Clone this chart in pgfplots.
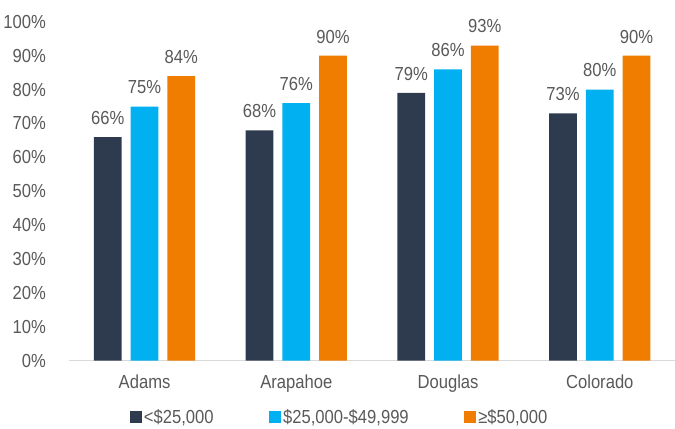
\documentclass[border=0pt]{standalone}
\usepackage{pgfplots}
\pgfplotsset{compat=1.18}
\usepackage{fontspec}
\setmainfont{Liberation Sans}[FakeStretch=0.88]
\definecolor{cdark}{HTML}{2E3B4E}
\definecolor{ccyan}{HTML}{00B0F0}
\definecolor{corange}{HTML}{F07C00}
\definecolor{txtgray}{HTML}{595959}
\definecolor{axgray}{HTML}{D9D9D9}
\begin{document}
\begin{tikzpicture}
\begin{axis}[
  scale only axis,
  width=611pt, height=341pt,
  ybar=9pt, bar width=28pt,
  xmin=-0.5, xmax=3.5, ymin=0, ymax=100,
  enlarge x limits=false,
  xtick={0,1,2,3},
  xticklabels={Adams,Arapahoe,Douglas,Colorado},
  ytick={0,10,...,100},
  yticklabel={\pgfmathprintnumber{\tick}\%},
  /pgf/number format/assume math mode=true,
  axis lines*=left,
  y axis line style={draw=none},
  x axis line style={draw=axgray, line width=1.3pt},
  major tick length=0pt,
  ytick style={draw=none},
  xtick style={draw=none},
  extra x ticks={-0.5,0.5,1.5,2.5,3.5},
  extra x tick labels={},
  extra x tick style={major tick length=13pt, tick align=outside, tick style={draw=axgray, line width=1.3pt}},
  tick label style={font=\fontsize{19}{21}\selectfont, text=txtgray},
  yticklabel style={xshift=-19.5pt},
  xticklabel style={yshift=-11pt},
  nodes near coords={\pgfmathprintnumber{\pgfplotspointmeta}\%},
  nodes near coords style={font=\fontsize{19}{21}\selectfont, text=txtgray, yshift=9pt},
  clip=false,
  legend style={at={(axis description cs:0.4465,0)}, anchor=center, yshift=-57pt,
    draw=none, fill=none, legend columns=-1, font=\fontsize{19}{21}\selectfont, text=txtgray,
    /tikz/every even column/.append style={column sep=54pt}},
  legend image code/.code={\fill[#1] (0pt,-6pt) rectangle (12pt,6pt);},
]
\addplot[fill=cdark, draw=none] coordinates {(0,66) (1,68) (2,79) (3,73)};
\addplot[fill=ccyan, draw=none] coordinates {(0,75) (1,76) (2,86) (3,80)};
\addplot[fill=corange, draw=none] coordinates {(0,84) (1,90) (2,93) (3,90)};
\legend{{<\$25,000}, {\$25,000-\$49,999}, {≥\$50,000}}
\path (rel axis cs:0,1) ++(0,22pt);
\end{axis}
\pgfresetboundingbox
\path[use as bounding box] (current axis.outer south west) rectangle ([xshift=-4pt]current axis.outer north east);
\end{tikzpicture}
\end{document}
